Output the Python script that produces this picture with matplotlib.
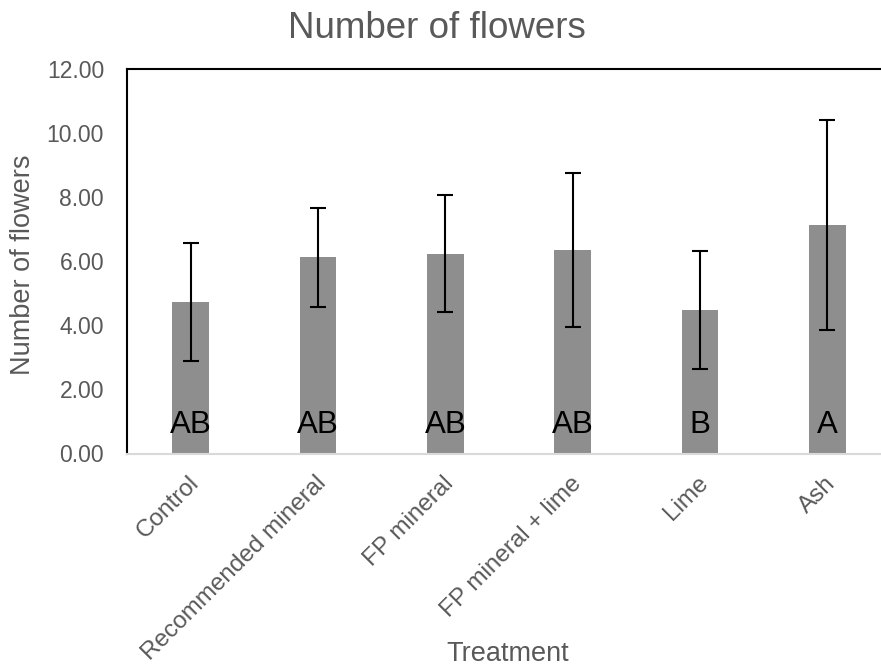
"""
Number of flowers per treatment: bar chart with SD error bars and
significance letters (Tukey grouping).
"""

import matplotlib

matplotlib.use("Agg")
import matplotlib.pyplot as plt
import matplotlib.transforms as mtransforms
from matplotlib.ticker import FormatStrFormatter

treatments = [
    "Control",
    "Recommended mineral",
    "FP mineral",
    "FP mineral + lime",
    "Lime",
    "Ash",
]
mean_flowers = [4.74, 6.12, 6.24, 6.36, 4.48, 7.13]
sd_flowers = [1.84, 1.55, 1.82, 2.40, 1.84, 3.28]
groups = ["AB", "AB", "AB", "AB", "B", "A"]

TEXT_GREY = "#595959"
BAR_GREY = "#8E8E8E"

W, H = 881, 666


def plot_flowers(output_path: str = "out.png") -> None:
    plt.rcParams["font.family"] = ["Liberation Sans", "DejaVu Sans"]

    fig = plt.figure(figsize=(W / 100, H / 100), dpi=100)
    # plot area runs a little past the right edge, as in the original export
    left, right, top, bottom = 127, 891, 69, 453.5
    ax = fig.add_axes(
        [left / W, 1 - bottom / H, (right - left) / W, (bottom - top) / H]
    )

    x = range(len(treatments))
    ax.bar(x, mean_flowers, width=0.29, color=BAR_GREY, zorder=2)
    ax.errorbar(
        x,
        mean_flowers,
        yerr=sd_flowers,
        fmt="none",
        ecolor="black",
        elinewidth=1.5,
        capsize=5.8,
        capthick=1.5,
        zorder=3,
    )

    for xi, g in zip(x, groups):
        ax.text(xi, 0.63, g, ha="center", va="baseline", fontsize=22.5,
                color="black", zorder=4)

    ax.set_xlim(-0.5, len(treatments) - 0.5)
    ax.set_ylim(0, 12)
    ax.set_yticks([0, 2, 4, 6, 8, 10, 12])
    ax.yaxis.set_major_formatter(FormatStrFormatter("%.2f"))
    ax.tick_params(axis="y", length=0, pad=16.5, labelsize=16.5,
                   labelcolor=TEXT_GREY)
    ax.tick_params(axis="x", length=0, pad=19, labelsize=17.5,
                   labelcolor=TEXT_GREY)
    ax.set_xticks(list(x))
    ax.set_xticklabels(treatments, rotation=45, ha="right", va="center",
                       rotation_mode="anchor")
    shift = mtransforms.ScaledTranslation(5 / 100, 0, fig.dpi_scale_trans)
    for lab in ax.get_xticklabels():
        lab.set_transform(lab.get_transform() + shift)

    ax.spines["left"].set_color("black")
    ax.spines["left"].set_linewidth(1.5)
    ax.spines["top"].set_color("black")
    ax.spines["top"].set_linewidth(1.5)
    ax.spines["bottom"].set_color("#D9D9D9")
    ax.spines["bottom"].set_linewidth(1.5)
    ax.spines["right"].set_visible(False)

    fig.text(437 / W, 1 - 38 / H, "Number of flowers", ha="center",
             va="baseline", fontsize=26.5, color=TEXT_GREY)
    fig.text(508 / W, 1 - 661 / H, "Treatment", ha="center", va="baseline",
             fontsize=19.5, color=TEXT_GREY)
    fig.text(23 / W, 1 - 265 / H, "Number of flowers", ha="center",
             va="center", rotation=90, fontsize=19.5, color=TEXT_GREY)

    fig.savefig(output_path, dpi=100)
    print(f"Saved: {output_path}")


def main():
    plot_flowers()


if __name__ == "__main__":
    main()
